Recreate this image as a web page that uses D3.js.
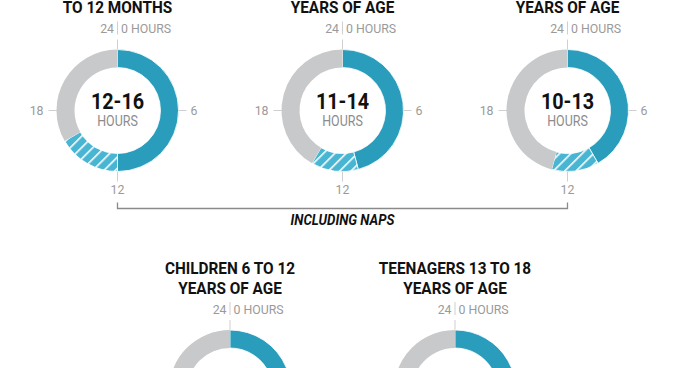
<!DOCTYPE html>
<html>
<head>
<meta charset="utf-8">
<script src="https://cdn.jsdelivr.net/npm/d3@7"></script>
<style>
  html, body { margin: 0; padding: 0; background: #fff; }
  svg { display: block; }
  text { font-family: Roboto, "Noto Sans", sans-serif; }
  .title { font-weight: bold; fill: #111; }
  .axis-label { fill: #9a9a9a; }
</style>
</head>
<body>
<script>
// data
const titleLine1 = ['INFANTS 4', 'CHILDREN 1 TO 2', 'CHILDREN 3 TO 5', 'CHILDREN 6 TO 12', 'TEENAGERS 13 TO 18'];
const titleLine2 = ['TO 12 MONTHS', 'YEARS OF AGE', 'YEARS OF AGE', 'YEARS OF AGE', 'YEARS OF AGE'];
const minHours = [12, 11, 10, 9, 8];
const maxHours = [16, 14, 13, 12, 10];
const includesNaps = [true, true, true, false, false];
const hourTicks = [0, 6, 12, 18];
const bracketLabel = 'INCLUDING NAPS';

// configs
const W = 700, H = 368;
const OUTER_R = 61;
const INNER_R = 43;
const COL_STEP = 225;
const ROW1_Y = 110.5;
const ROW2_Y = 391;
const BLUE = '#2a9dbd';
const HATCH_BG = '#48b5d3';
const GREY = '#c8c9cb';
const TICK_GREY = '#cfcfcf';
const SQUEEZE_TITLE = 0.93;   // fake a condensed face
const SQUEEZE_LABEL = 0.95;

const svg = d3.select('body').append('svg')
  .attr('width', W)
  .attr('height', H);

// hatch pattern for the nap range
const defs = svg.append('defs');
const pat = defs.append('pattern')
  .attr('id', 'nap-hatch')
  .attr('patternUnits', 'userSpaceOnUse')
  .attr('width', 8)
  .attr('height', 8)
  .attr('patternTransform', 'rotate(45)');
pat.append('rect').attr('width', 8).attr('height', 8).attr('fill', HATCH_BG);
pat.append('rect').attr('x', 0).attr('y', 0).attr('width', 1.6).attr('height', 8).attr('fill', '#fff');

const angle = d3.scaleLinear().domain([0, 24]).range([0, 2 * Math.PI]);
const arc = d3.arc().innerRadius(INNER_R).outerRadius(OUTER_R);

// text helper, squeezed horizontally
function addText(g, x, y, str, cls, size, anchor, sx) {
  return g.append('text')
    .attr('class', cls)
    .attr('text-anchor', anchor)
    .attr('transform', `translate(${x},${y}) scale(${sx},1)`)
    .attr('font-size', size)
    .text(str);
}

// layout: 3 on top row, 2 centered below
const centers = minHours.map((d, i) => {
  if (i < 3) return { x: 117.5 + i * COL_STEP, y: ROW1_Y };
  return { x: 230 + (i - 3) * COL_STEP, y: ROW2_Y };
});

const charts = svg.selectAll('g.chart')
  .data(minHours.map((d, i) => i))
  .enter()
  .append('g')
  .attr('class', 'chart')
  .attr('transform', i => `translate(${centers[i].x},${centers[i].y})`);

charts.each(function(i) {
  const g = d3.select(this);

  // tick marks at 0 / 6 / 12 / 18
  g.selectAll('line.tick')
    .data(hourTicks)
    .enter()
    .append('line')
    .attr('class', 'tick')
    .attr('x1', h => Math.sin(angle(h)) * (OUTER_R - 4))
    .attr('y1', h => -Math.cos(angle(h)) * (OUTER_R - 4))
    .attr('x2', h => Math.sin(angle(h)) * (OUTER_R + (h % 12 === 0 ? 10 : 8)))
    .attr('y2', h => -Math.cos(angle(h)) * (OUTER_R + (h % 12 === 0 ? 10 : 8)))
    .attr('stroke', TICK_GREY)
    .attr('stroke-width', 1);

  const segs = [
    { a0: 0, a1: minHours[i], fill: BLUE },
    { a0: minHours[i], a1: maxHours[i], fill: includesNaps[i] ? 'url(#nap-hatch)' : BLUE },
    { a0: maxHours[i], a1: 24, fill: GREY }
  ];

  g.selectAll('path.seg')
    .data(segs)
    .enter()
    .append('path')
    .attr('class', 'seg')
    .attr('d', s => arc({ startAngle: angle(s.a0), endAngle: angle(s.a1) }))
    .attr('fill', s => s.fill)
    .attr('stroke', '#fff')
    .attr('stroke-width', s => s.fill === GREY ? 0 : 0.8);

  // titles
  addText(g, 0, -117.5, titleLine1[i], 'title', 16.5, 'middle', SQUEEZE_TITLE);
  addText(g, 0, -97.5, titleLine2[i], 'title', 16.5, 'middle', SQUEEZE_TITLE);

  // hour labels
  addText(g, -3.5, -77.5, '24', 'axis-label', 13, 'end', SQUEEZE_LABEL);
  g.append('line')
    .attr('x1', 0).attr('x2', 0)
    .attr('y1', -89).attr('y2', -76)
    .attr('stroke', TICK_GREY);
  addText(g, 3.5, -77.5, '0 HOURS', 'axis-label', 13, 'start', SQUEEZE_LABEL);
  addText(g, OUTER_R + 12, 4.5, '6', 'axis-label', 13, 'start', SQUEEZE_LABEL);
  addText(g, 0, 83, '12', 'axis-label', 13, 'middle', SQUEEZE_LABEL);
  addText(g, -(OUTER_R + 13), 4.5, '18', 'axis-label', 13, 'end', SQUEEZE_LABEL);

  // center value
  addText(g, 0, -1.5, `${minHours[i]}-${maxHours[i]}`, 'title', 22, 'middle', 0.9);
  addText(g, 0, 15.5, 'HOURS', 'axis-label', 14.5, 'middle', 0.86)
    .style('fill', '#8c8c8c');
});

// bracket under the nap-including charts
const napIdx = includesNaps.map((d, i) => d ? i : -1).filter(i => i >= 0);
const bx0 = centers[napIdx[0]].x;
const bx1 = centers[napIdx[napIdx.length - 1]].x;
const by = ROW1_Y + 98;

svg.append('path')
  .attr('d', `M${bx0},${by - 6}V${by}H${bx1}V${by - 6}`)
  .attr('fill', 'none')
  .attr('stroke', '#8a8a8a')
  .attr('stroke-width', 1.3);

addText(svg, (bx0 + bx1) / 2, by + 16.5, bracketLabel, 'title', 14, 'middle', 0.95)
  .attr('font-style', 'italic');
</script>
</body>
</html>
